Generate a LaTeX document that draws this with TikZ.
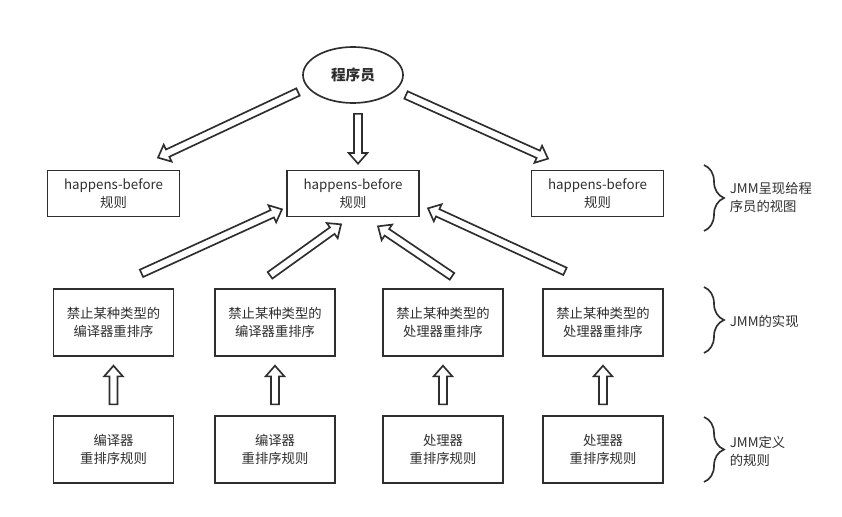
\documentclass[tikz,border=0pt]{standalone}
\usepackage{fontspec}
\setmainfont{Noto Sans CJK SC}
\usetikzlibrary{shapes.geometric,calc,decorations.pathreplacing}
\definecolor{ink}{HTML}{2E2E2E}

\tikzset{
  rule/.style={draw, minimum width=99pt, minimum height=34.5pt, inner sep=0pt, align=center},
  ban/.style={draw, minimum width=90pt, minimum height=50pt, inner sep=0pt, align=center},
  hollow/.style={fill=white, to path={let \p1=(\tikztostart), \p2=(\tikztotarget),
      \n1={atan2(\y2-\y1,\x2-\x1)}, \n2={veclen(\x2-\x1,\y2-\y1)-8pt} in
      ([shift={(\p1)},rotate=\n1]0pt,3pt) -- ([shift={(\p1)},rotate=\n1]\n2,3pt)
      -- ([shift={(\p1)},rotate=\n1]\n2,7pt) -- (\p2)
      -- ([shift={(\p1)},rotate=\n1]\n2,-7pt) -- ([shift={(\p1)},rotate=\n1]\n2,-3pt)
      -- ([shift={(\p1)},rotate=\n1]0pt,-3pt) -- cycle}},
  side/.style={right, align=left, inner sep=0pt}
}

\begin{document}
\begin{tikzpicture}[x=0.75pt, y=-0.75pt, line width=1.25pt, color=ink,
    font=\fontsize{10}{13.5}\selectfont]
    \useasboundingbox (0,0) rectangle (842,517);

    \node[ellipse, draw, minimum width=75pt, minimum height=42pt, inner sep=0pt,
          font=\bfseries\fontsize{11}{13}\selectfont] (prog) at (353,75) {程序员};

    % happens-before
    \node[rule] (hb1) at (113.5,193.5) {happens-before\\规则};
    \node[rule] (hb2) at (353,193.5) {happens-before\\规则};
    \node[rule] (hb3) at (597.5,193.5) {happens-before\\规则};

    % JMM
    \node[ban] (c1) at (113.5,322.5) {禁止某种类型的\\编译器重排序};
    \node[ban] (c2) at (275,322.5) {禁止某种类型的\\编译器重排序};
    \node[ban] (c3) at (443,322.5) {禁止某种类型的\\处理器重排序};
    \node[ban] (c4) at (603,322.5) {禁止某种类型的\\处理器重排序};

    \node[ban] (r1) at (113.5,449.5) {编译器\\重排序规则};
    \node[ban] (r2) at (275,449.5) {编译器\\重排序规则};
    \node[ban] (r3) at (443,449.5) {处理器\\重排序规则};
    \node[ban] (r4) at (603,449.5) {处理器\\重排序规则};

    \draw[hollow] ($(prog)+(-55,17)$) to ($(hb1.north)+(44.5,-12)$);
    \draw[hollow] ($(prog.south)+(5,10)$) to ($(hb2.north)+(5,-6)$);
    \draw[hollow] ($(prog)+(53,20)$) to ($(hb3.north)+(-49.5,-11)$);

    \draw[hollow] ($(c1.north)+(28,-15)$) to ($(hb2.south)+(-71,-8)$);
    \draw[hollow] ($(c2.north)+(-5,-13)$) to ($(hb2.south)+(-12,7)$);
    \draw[hollow] ($(c3.north)+(9,-12)$) to ($(hb2.south)+(25,9)$);
    \draw[hollow] ($(c4.north)+(-38,-17)$) to ($(hb2.south)+(75,-9)$);

    \foreach \i in {1,...,4}
        \draw[hollow] ($(r\i.north)+(0,-11)$) to ($(c\i.south)+(0,9)$);

    % braces
    \draw[decorate, decoration={brace, amplitude=15pt}] (704,165) -- (704,231);
    \node[side] (view) at (729,197) {JMM呈现给程\\序员的视图};
    \draw[decorate, decoration={brace, amplitude=15pt}] (704,287) -- (704,353);
    \node[side] (impl) at (729,321) {JMM的实现};
    \draw[decorate, decoration={brace, amplitude=15pt}] (704,417) -- (704,482);
    \node[side] (defn) at (729,451) {JMM定义\\的规则};
\end{tikzpicture}
\end{document}
